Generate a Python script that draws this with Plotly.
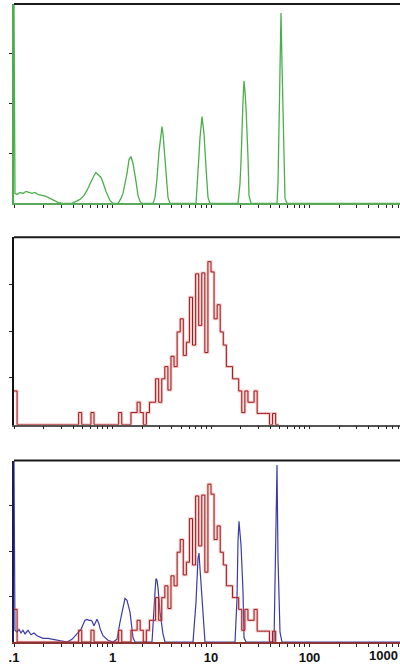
import numpy as np
import plotly.graph_objects as go

# ---- Calibration beads, first acquisition (top panel): trace vertices ----
beads_x = [0.1, 0.1023, 0.1073, 0.1150, 0.1234, 0.1323, 0.1420, 0.1523, 0.1634, 0.1752,
           0.1924, 0.2113, 0.2320, 0.2547, 0.2797, 0.3071, 0.3879, 0.4678, 0.5136, 0.5508,
           0.5908, 0.6191, 0.6487, 0.6798, 0.6959, 0.7292, 0.7641, 0.8009, 0.8591, 0.9432,
           1.0118, 1.137, 1.220, 1.278, 1.339, 1.404, 1.471, 1.541, 1.615, 1.692,
           1.732, 1.815, 1.902, 1.993, 2.578, 2.701, 2.830, 2.966, 3.108, 3.181,
           3.256, 3.333, 3.492, 3.660, 3.835, 7.043, 7.379, 7.733, 8.103, 8.490,
           8.897, 9.322, 9.768, 18.80, 19.70, 20.17, 21.13, 21.63, 22.14, 22.67,
           23.75, 24.31, 25.47, 46.79, 47.89, 49.02, 50.18, 51.36, 52.57, 53.82,
           55.09, 56.39, 59.09, 1000]
beads_y = [200, 10, 9, 11, 10, 12, 11, 10, 11, 9,
           8, 7, 5, 3, 1, 0, 0, 4, 8, 13,
           20, 25, 28, 31, 30, 29, 26, 21, 12, 3,
           0, 0, 5, 10, 20, 30, 44, 47, 40, 30,
           22, 8, 2, 0, 0, 6, 25, 52, 72, 77,
           70, 55, 26, 6, 0, 0, 32, 66, 87, 70,
           36, 6, 0, 0, 20, 42, 102, 123, 112, 96,
           46, 8, 0, 0, 20, 66, 140, 191, 140, 86,
           30, 5, 0, 0]

# ---- Sample histogram (middle and bottom panels) ----
# counts per channel, 32 channels per decade, first channel starting at 0.1
CHANNELS_PER_DECADE = 32
sample_counts = [36, 0, 0, 0, 0, 0, 0, 0, 0, 0,
                 0, 0, 0, 0, 0, 0, 0, 0, 0, 0,
                 0, 13, 0, 0, 0, 13, 0, 0, 0, 0,
                 0, 0, 0, 0, 13, 0, 0, 0, 13, 13,
                 24, 13, 0, 13, 24, 24, 49, 24, 49, 62,
                 37, 73, 62, 99, 113, 74, 88, 136, 85, 161,
                 106, 162, 77, 174, 163, 113, 128, 99, 85, 62,
                 62, 49, 49, 36, 13, 36, 24, 24, 36, 12,
                 12, 12, 12, 0, 12, 0]

# ---- Calibration beads, second acquisition (bottom panel): trace vertices ----
beads2_x = [0.1, 0.1023, 0.1073, 0.1124, 0.1178, 0.1234, 0.1293, 0.1387, 0.1488, 0.1596,
            0.1712, 0.1837, 0.1970, 0.2215, 0.2489, 0.2797, 0.3071, 0.3452, 0.3879, 0.4163,
            0.4464, 0.4788, 0.5017, 0.5256, 0.5508, 0.5773, 0.6049, 0.6191, 0.6487, 0.6798,
            0.6959, 0.7292, 0.7467, 0.8009, 0.9000, 1.0118, 1.111, 1.192, 1.278, 1.339,
            1.404, 1.437, 1.505, 1.615, 1.692, 2.518, 2.578, 2.701, 2.764, 2.830,
            2.897, 3.035, 3.256, 3.412, 6.567, 7.043, 7.379, 7.555, 7.733, 8.294,
            8.692, 17.53, 18.37, 18.80, 19.24, 20.17, 21.13, 21.63, 22.67, 43.62,
            44.65, 46.79, 47.89, 50.18, 52.57, 1000]
beads2_y = [200, 13, 11, 14, 10, 13, 9, 13, 8, 10,
            7, 5.5, 4, 4, 3, 2, 1, 0, 3, 7,
            11, 14, 19, 24, 25, 24, 24, 23, 18, 23,
            25, 20, 15, 7, 2, 0, 3, 22, 38, 48,
            46, 42, 33, 5, 0, 0, 22, 55, 70, 68,
            60, 33, 9, 0, 0, 44, 92, 98, 81, 30,
            0, 0, 48, 111, 133, 107, 56, 5, 0, 0,
            74, 195, 92, 11, 0, 0]

# ---- Axis ticks ----
tick_vals = [0.1, 0.2, 0.3, 0.4, 0.5, 0.6, 0.7, 0.8, 0.9,
             1, 2, 3, 4, 5, 6, 7, 8, 9,
             10, 20, 30, 40, 50, 60, 70, 80, 90,
             100, 200, 300, 400, 500, 600, 700, 800, 900]
major_labels = {0.1: ".1", 1: "1", 10: "10", 100: "100"}
tick_text = ["<b>%s</b>" % major_labels.get(v, "") for v in tick_vals]
y_tick_vals = [50, 100, 150]

GREEN = "#4cae4c"
RED = "#a51818"
RED_SOFT = "rgba(220,125,125,0.40)"
BLUE = "#3b3ba8"

n = len(sample_counts)
edges = 0.1 * 10 ** (np.arange(n + 1) / CHANNELS_PER_DECADE)
# middle panel: step outline stops after the last channel
mid_x = list(edges)
mid_y = sample_counts + [0]
# bottom panel: outline continues along the baseline
bot_x = list(edges[:-1]) + [1000]
bot_y = list(sample_counts)

fig = go.Figure()

fig.add_trace(go.Scatter(x=beads_x, y=beads_y, mode="lines",
                         line=dict(color=GREEN, width=1.3),
                         xaxis="x", yaxis="y", hoverinfo="skip"))

for w, c in ((2.8, RED_SOFT), (1.0, RED)):
    fig.add_trace(go.Scatter(x=mid_x, y=mid_y, mode="lines", line_shape="hv",
                             line=dict(color=c, width=w),
                             xaxis="x2", yaxis="y2", hoverinfo="skip"))

fig.add_trace(go.Scatter(x=beads2_x, y=beads2_y, mode="lines",
                         line=dict(color=BLUE, width=1.2),
                         xaxis="x3", yaxis="y3", hoverinfo="skip"))
for w, c in ((2.8, RED_SOFT), (1.0, RED)):
    fig.add_trace(go.Scatter(x=bot_x, y=bot_y, mode="lines", line_shape="hv",
                             line=dict(color=c, width=w),
                             xaxis="x3", yaxis="y3", hoverinfo="skip"))

X_RANGE = [-1, 2.9188]
panels = [
    # (suffix, y-domain, bottom line colour, left line colour, show labels)
    ("", [0.6932, 0.9940], "#5aa85a", "#4cae4c", False),
    ("2", [0.3594, 0.6421], "#555555", "#111111", False),
    ("3", [0.0316, 0.3053], "#8a3434", "#1c1c5c", True),
]
layout = {}
shapes = []
for sfx, dom, xcol, ycol, labels in panels:
    layout["xaxis" + sfx] = dict(
        type="log", range=X_RANGE, domain=[0, 1], anchor="y" + sfx,
        tickmode="array", tickvals=tick_vals, ticktext=tick_text,
        ticks="outside", ticklen=3, tickwidth=1, tickcolor="#222222",
        showticklabels=labels, tickangle=0,
        tickfont=dict(family="Liberation Sans, Arial", size=13, color="#111111"),
        showline=True, linecolor=xcol, linewidth=1.5,
        showgrid=False, zeroline=False, layer="below traces")
    layout["yaxis" + sfx] = dict(
        range=[0, 200], domain=dom, anchor="x" + sfx,
        tickmode="array", tickvals=y_tick_vals, ticks="outside",
        ticklen=3, tickwidth=1, tickcolor="#222222", showticklabels=False,
        showline=True, linecolor=ycol, linewidth=2,
        showgrid=False, zeroline=False)
    shapes.append(dict(type="line", xref="paper", yref="paper",
                       x0=0, x1=1, y0=dom[1], y1=dom[1],
                       line=dict(color="#1a1a1a", width=2)))

fig.update_layout(
    width=400, height=665,
    margin=dict(l=14, r=0, t=0, b=0),
    paper_bgcolor="white", plot_bgcolor="white",
    showlegend=False, shapes=shapes,
    annotations=[dict(text="<b>1000</b>", xref="paper", yref="paper",
                      x=1.0, y=0.012, xanchor="right", yanchor="middle",
                      showarrow=False,
                      font=dict(family="Liberation Sans, Arial", size=13, color="#111111"))],
    **layout)

fig.write_html("out.html")
